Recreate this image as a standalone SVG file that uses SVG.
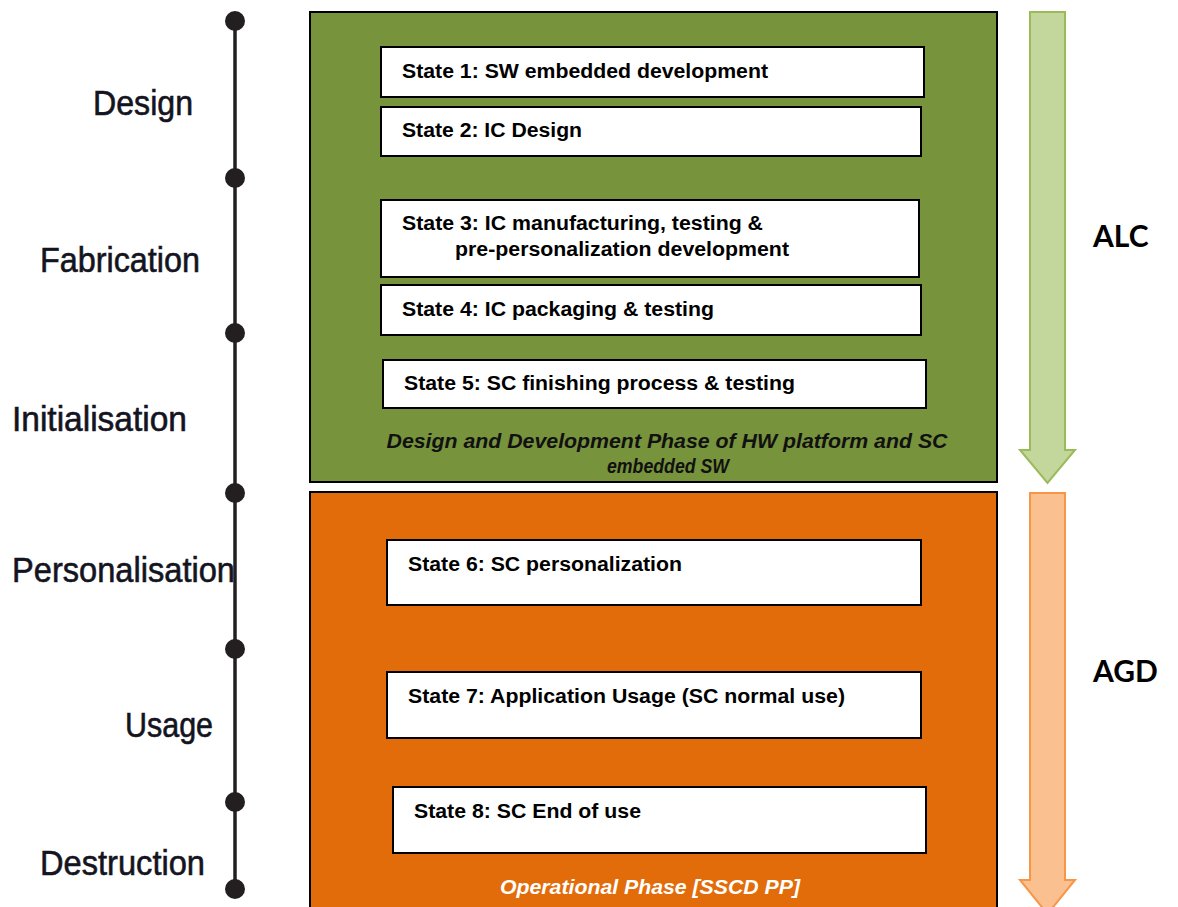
<svg xmlns="http://www.w3.org/2000/svg" width="1178" height="907" viewBox="0 0 1178 907">
<style>
.lbl{font-family:"Liberation Sans",Arial,sans-serif;font-size:35px;fill:#14141f;stroke:#14141f;stroke-width:0.6;}
.st{font-family:"Liberation Sans",Arial,sans-serif;font-size:19.5px;font-weight:bold;fill:#000;}
.box{fill:#fff;stroke:#000;stroke-width:2;}
.cap{font-family:"Liberation Sans",Arial,sans-serif;font-size:20px;font-weight:bold;font-style:italic;text-anchor:middle;}
.big{font-family:Lato,"Open Sans",sans-serif;font-size:30px;font-weight:bold;fill:#000;}
.dot{fill:#231f20;}
</style>
<g id="timeline">
<line x1="235" y1="20" x2="235" y2="889" stroke="#231f20" stroke-width="3.5"/>
<circle class="dot" cx="235" cy="21" r="10"/>
<circle class="dot" cx="235" cy="178" r="10"/>
<circle class="dot" cx="235" cy="333" r="10"/>
<circle class="dot" cx="235" cy="493" r="10"/>
<circle class="dot" cx="235" cy="649" r="10"/>
<circle class="dot" cx="235" cy="802" r="10"/>
<circle class="dot" cx="235" cy="889" r="10"/>
</g>
<g id="stage-labels">
<text class="lbl" x="93" y="115" textLength="100" lengthAdjust="spacingAndGlyphs">Design</text>
<text class="lbl" x="40" y="272" textLength="160" lengthAdjust="spacingAndGlyphs">Fabrication</text>
<text class="lbl" x="12" y="431" textLength="175" lengthAdjust="spacingAndGlyphs">Initialisation</text>
<text class="lbl" x="12" y="582" textLength="223" lengthAdjust="spacingAndGlyphs">Personalisation</text>
<text class="lbl" x="125" y="737" textLength="88" lengthAdjust="spacingAndGlyphs">Usage</text>
<text class="lbl" x="40" y="875" textLength="165" lengthAdjust="spacingAndGlyphs">Destruction</text>
</g>
<g id="phase-design">
<rect x="310" y="12" width="687" height="470" fill="#77933C" stroke="#000" stroke-width="2"/>
<text class="cap" x="667" y="448" fill="#111" textLength="561" lengthAdjust="spacingAndGlyphs">Design and Development Phase of HW platform and SC</text>
<text class="cap" x="668" y="473" fill="#111" textLength="122" lengthAdjust="spacingAndGlyphs">embedded SW</text>
</g>
<g id="phase-operational">
<rect x="310" y="492" width="687" height="420" fill="#E36C0A" stroke="#000" stroke-width="2"/>
<text class="cap" x="650" y="894" fill="#fff" textLength="300" lengthAdjust="spacingAndGlyphs">Operational Phase [SSCD PP]</text>
</g>
<g id="state1"><rect class="box" x="381" y="47" width="543" height="50"/><text class="st" x="402" y="78" textLength="366" lengthAdjust="spacingAndGlyphs">State 1: SW embedded development</text></g>
<g id="state2"><rect class="box" x="381" y="107" width="540" height="49"/><text class="st" x="402" y="137" textLength="180" lengthAdjust="spacingAndGlyphs">State 2: IC Design</text></g>
<g id="state3"><rect class="box" x="381" y="200" width="538" height="77"/><text class="st" x="402" y="230" textLength="361" lengthAdjust="spacingAndGlyphs">State 3: IC manufacturing, testing &amp;</text><text class="st" x="455" y="256" textLength="334" lengthAdjust="spacingAndGlyphs">pre-personalization development</text></g>
<g id="state4"><rect class="box" x="381" y="285" width="540" height="50"/><text class="st" x="402" y="316" textLength="312" lengthAdjust="spacingAndGlyphs">State 4: IC packaging &amp; testing</text></g>
<g id="state5"><rect class="box" x="383" y="360" width="543" height="48"/><text class="st" x="404" y="390" textLength="391" lengthAdjust="spacingAndGlyphs">State 5: SC finishing process &amp; testing</text></g>
<g id="state6"><rect class="box" x="387" y="540" width="534" height="65"/><text class="st" x="408" y="571" textLength="274" lengthAdjust="spacingAndGlyphs">State 6: SC personalization</text></g>
<g id="state7"><rect class="box" x="387" y="672" width="534" height="66"/><text class="st" x="408" y="703" textLength="437" lengthAdjust="spacingAndGlyphs">State 7: Application Usage (SC normal use)</text></g>
<g id="state8"><rect class="box" x="393" y="787" width="533" height="66"/><text class="st" x="414" y="818" textLength="227" lengthAdjust="spacingAndGlyphs">State 8: SC End of use</text></g>
<g id="connectors">
<path d="M1030 12 H1065 V450 H1075 L1047.5 483 L1020 450 H1030 Z" fill="#C3D69B" stroke="#9BBB59" stroke-width="2"/>
<path d="M1030 493 H1065 V880 H1075 L1047.5 914 L1020 880 H1030 Z" fill="#FAC090" stroke="#F79646" stroke-width="2"/>
</g>
<g id="alc"><text class="big" x="1093" y="247">ALC</text></g>
<g id="agd"><text class="big" x="1093" y="682">AGD</text></g>
</svg>
